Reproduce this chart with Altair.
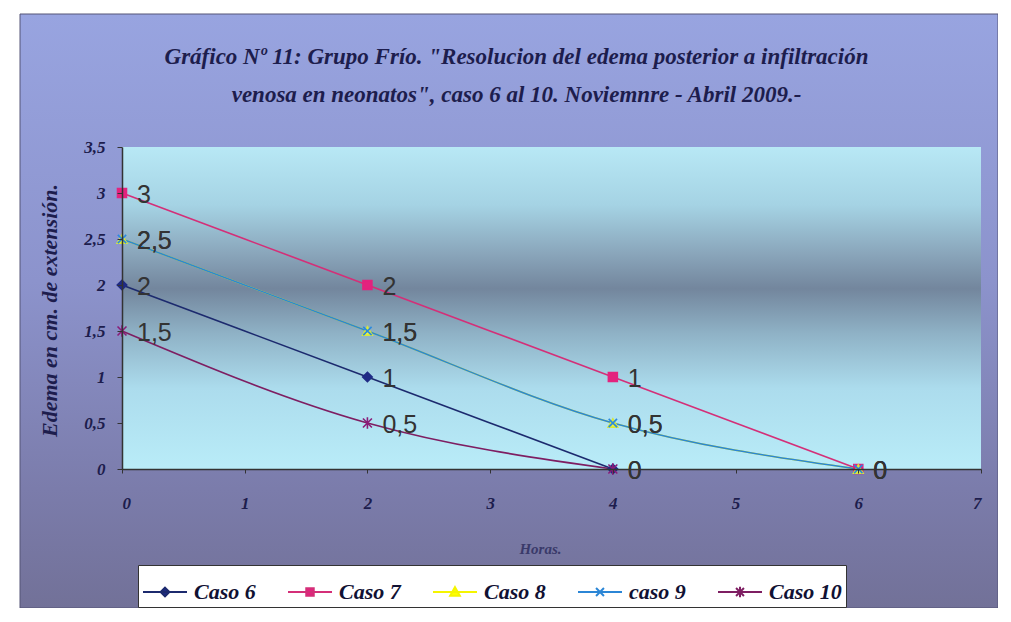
import altair as alt
import pandas as pd

# ---------------- data ----------------
series = ["Caso 6", "Caso 7", "Caso 8", "caso 9", "Caso 10"]
horas = {
    "Caso 6": [0, 2, 4],
    "Caso 7": [0, 2, 4, 6],
    "Caso 8": [0, 2, 4, 6],
    "caso 9": [0, 2, 4, 6],
    "Caso 10": [0, 2, 4],
}
edema = {
    "Caso 6": [2, 1, 0],
    "Caso 7": [3, 2, 1, 0],
    "Caso 8": [2.5, 1.5, 0.5, 0],
    "caso 9": [2.5, 1.5, 0.5, 0],
    "Caso 10": [1.5, 0.5, 0],
}
x_ticks = [0, 1, 2, 3, 4, 5, 6, 7]
y_ticks = [0, 0.5, 1, 1.5, 2, 2.5, 3, 3.5]

title_lines = [
    "Gráfico Nº 11: Grupo Frío. \"Resolucion del edema posterior a infiltración",
    "venosa en neonatos\", caso 6 al 10. Noviemnre - Abril 2009.-",
]
x_title = "Horas."
y_title = "Edema en cm. de extensión."

# ---------------- styles ----------------
line_colors = ["#1c2a6e", "#d42f78", "#f5f500", "#2b86d6", "#7e1e62"]
marker_fill = ["#1f2b85", "#e3237e", "#f5f53a", "transparent", "transparent"]
marker_stroke = ["#1f2b85", "#e3237e", "#d8e83a", "#2a8ae0", "#8a1c78"]
marker_shape = [
    "M0,-1L1,0L0,1L-1,0Z",
    "square",
    "triangle-up",
    "M-1,-1L1,1M-1,1L1,-1",
    "M-1,-1L1,1M-1,1L1,-1M0,-1.3V1.3",
]
marker_size = [90, 80, 90, 70, 80]
legend_shapes = [
    "M-1,0H1M0,-0.2L0.2,0L0,0.2L-0.2,0Z",
    "M-1,0H1M-0.17,-0.17H0.17V0.17H-0.17Z",
    "M-1,0H1M0,-0.22L0.22,0.17H-0.22Z",
    "M-1,0H1M-0.18,-0.18L0.18,0.18M-0.18,0.18L0.18,-0.18",
    "M-1,0H1M-0.18,-0.18L0.18,0.18M-0.18,0.18L0.18,-0.18M0,-0.24V0.24",
]
legend_fill = ["#1f2b85", "#e3237e", "#ffff00", "transparent", "transparent"]

rows = []
for s in series:
    for h, e in zip(horas[s], edema[s]):
        rows.append({"serie": s, "Horas": h, "Edema": e,
                     "lbl": f"{e:g}".replace(".", ",")})
df = pd.DataFrame(rows)

W, H = 859, 322
PL, PT, PR, PB = 114, 139, 17, 139

SERIF = "Liberation Serif"
INK = "#1d1d4d"

x_enc = alt.X("Horas:Q", scale=alt.Scale(domain=[0, 7], nice=False),
              axis=alt.Axis(values=x_ticks, grid=False, title=x_title, zindex=2,
                            titleX=418, titleY=79, titleBaseline="middle",
                            titleFont=SERIF,
                            titleFontStyle="italic", titleFontWeight="bold",
                            titleFontSize=15, titleColor="#3a3a6a",
                            labelFont=SERIF, labelFontStyle="italic",
                            labelFontWeight="bold", labelFontSize=17,
                            labelColor=INK, labelPadding=22, tickSize=4,
                            tickColor="#333", domainColor="#333", domainWidth=1.5))
y_enc = alt.Y("Edema:Q", scale=alt.Scale(domain=[0, 3.5], nice=False),
              axis=alt.Axis(values=y_ticks, grid=False, title=y_title, zindex=2,
                            labelExpr="replace(format(datum.value, '~g'), '.', ',')",
                            titleX=-73, titleY=163, titleAngle=-90,
                            titleAlign="center", titleBaseline="middle",
                            titleFont=SERIF, titleFontStyle="italic",
                            titleFontWeight="bold", titleFontSize=22,
                            titleColor=INK,
                            labelFont=SERIF, labelFontStyle="italic",
                            labelFontWeight="bold", labelFontSize=17,
                            labelColor=INK, labelPadding=12, tickSize=5,
                            tickColor="#333", domainColor="#333", domainWidth=1.5))

one = pd.DataFrame({"a": [0]})

bg = alt.Chart(one).mark_rect(
    color=alt.Gradient(gradient="linear", x1=0, x2=0, y1=0, y2=1, stops=[
        alt.GradientStop(offset=0, color="#98a4e0"),
        alt.GradientStop(offset=0.45, color="#8c93cc"),
        alt.GradientStop(offset=0.8, color="#7b7cab"),
        alt.GradientStop(offset=1, color="#727198"),
    ]),
    stroke="#555577", strokeWidth=1,
).encode(x=alt.value(-102), x2=alt.value(W + PR), y=alt.value(-133), y2=alt.value(H + PB))

plot_bg = alt.Chart(one).mark_rect(
    color=alt.Gradient(gradient="linear", x1=0, x2=0, y1=0, y2=1, stops=[
        alt.GradientStop(offset=0, color="#b8e8f5"),
        alt.GradientStop(offset=0.18, color="#a5d3e4"),
        alt.GradientStop(offset=0.33, color="#8aa6bb"),
        alt.GradientStop(offset=0.44, color="#73869d"),
        alt.GradientStop(offset=0.58, color="#8fb2c6"),
        alt.GradientStop(offset=0.75, color="#acdced"),
        alt.GradientStop(offset=1, color="#b9ecf8"),
    ]),
).encode(x=alt.value(0), x2=alt.value(W), y=alt.value(0), y2=alt.value(H))

layers = [bg, plot_bg]

for i, s in enumerate(series):
    layers.append(
        alt.Chart(df).transform_filter(alt.datum.serie == s)
        .mark_line(color=line_colors[i], strokeWidth=1.6, interpolate="monotone")
        .encode(x=x_enc, y=y_enc)
    )

for i, s in enumerate(series):
    layers.append(
        alt.Chart(df).transform_filter(alt.datum.serie == s)
        .mark_point(shape=marker_shape[i], fill=marker_fill[i],
                    stroke=marker_stroke[i], strokeWidth=1.6,
                    size=marker_size[i], opacity=1, filled=False)
        .encode(x=x_enc, y=y_enc)
    )

labels = alt.Chart(df).mark_text(
    align="left", baseline="middle", dx=15, dy=2,
    font="Liberation Sans", fontSize=25, color="#333333",
).encode(x=x_enc, y=y_enc, text="lbl:N")
layers.append(labels)

legend_layer = alt.Chart(df).transform_filter("datum.Horas < 0").mark_point(
    filled=True, strokeWidth=2
).encode(
    x=x_enc, y=y_enc,
    fill=alt.Fill("serie:N", scale=alt.Scale(domain=series, range=legend_fill),
                  legend=alt.Legend(title=None)),
    stroke=alt.Stroke("serie:N", scale=alt.Scale(domain=series, range=line_colors),
                      legend=alt.Legend(title=None)),
    shape=alt.Shape("serie:N", scale=alt.Scale(domain=series, range=legend_shapes),
                    legend=alt.Legend(title=None)),
)
layers.append(legend_layer)

chart = alt.layer(*layers).properties(
    width=W, height=H,
    autosize=alt.AutoSizeParams(type="none"),
    padding={"left": PL, "top": PT, "right": PR, "bottom": PB},
    title=alt.TitleParams(
        text=title_lines, font=SERIF, fontStyle="italic", fontWeight="bold",
        fontSize=23, color=INK, anchor="middle", dx=-35, offset=0, dy=93,
        lineHeight=38, frame="group", zindex=3,
    ),
).configure_view(stroke=None).configure_legend(
    orient="none", legendX=16, legendY=418, direction="horizontal",
    columns=5, fillColor="white", strokeColor="#333", padding=4,
    symbolSize=1936, symbolStrokeWidth=2, symbolOpacity=1,
    labelFont=SERIF, labelFontStyle="italic", labelFontWeight="bold",
    labelFontSize=22, labelColor="#111133", labelOffset=6,
    columnPadding=28, cornerRadius=0,
)

chart.save("out.html", embed_options={"renderer": "svg", "actions": False})
